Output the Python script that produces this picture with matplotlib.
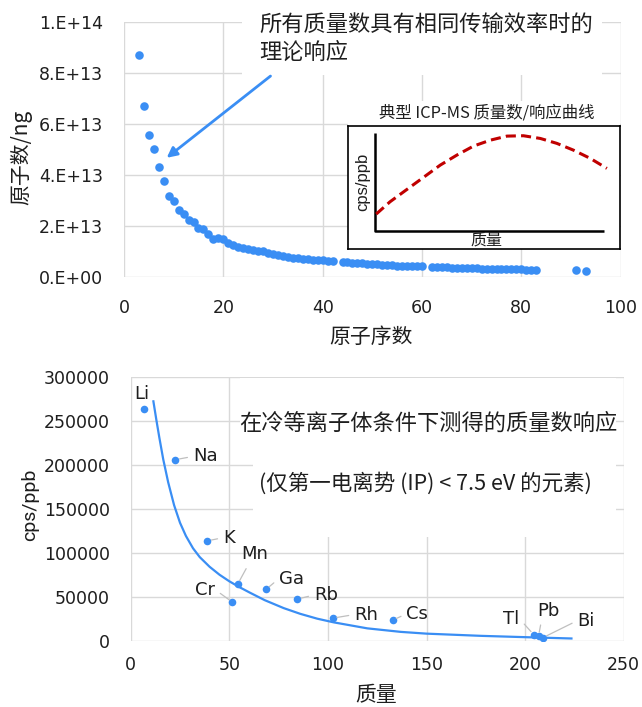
import matplotlib
matplotlib.use("Agg")
import matplotlib.pyplot as plt
from matplotlib.patches import Rectangle

plt.rcParams['font.family'] = ['Roboto', 'Noto Sans CJK SC', 'DejaVu Sans']

# ---------------- data: top chart (atoms per ng vs atomic number) ----------------
atomic_number = [3, 4, 5, 6, 7, 8, 9, 10, 11, 12, 13, 14, 15, 16, 17, 18, 19, 20,
                 21, 22, 23, 24, 25, 26, 27, 28, 29, 30, 31, 32, 33, 34, 35, 36,
                 37, 38, 39, 40, 41, 42, 44, 45, 46, 47, 48, 49, 50, 51, 52, 53,
                 54, 55, 56, 57, 58, 59, 60, 62, 63, 64, 65, 66, 67, 68, 69, 70,
                 71, 72, 73, 74, 75, 76, 77, 78, 79, 80, 81, 82, 83, 91, 93]
atoms_per_ng_e13 = [8.68, 6.68, 5.57, 5.01, 4.30, 3.76, 3.17, 2.98, 2.62, 2.48,
                    2.23, 2.14, 1.94, 1.88, 1.70, 1.51, 1.54, 1.50, 1.34, 1.26,
                    1.18, 1.16, 1.10, 1.08, 1.02, 1.03, 0.948, 0.921, 0.864, 0.829,
                    0.804, 0.763, 0.754, 0.719, 0.705, 0.687, 0.677, 0.660, 0.648,
                    0.628, 0.596, 0.585, 0.566, 0.558, 0.536, 0.524, 0.507, 0.495,
                    0.472, 0.475, 0.459, 0.453, 0.439, 0.434, 0.430, 0.427, 0.418,
                    0.401, 0.396, 0.383, 0.379, 0.371, 0.365, 0.360, 0.356, 0.348,
                    0.344, 0.337, 0.333, 0.328, 0.323, 0.317, 0.313, 0.309, 0.306,
                    0.300, 0.295, 0.291, 0.288, 0.261, 0.254]
top_xticks = [0, 20, 40, 60, 80, 100]
top_yticks_e13 = [0, 2, 4, 6, 8, 10]
top_yticklabels = ['0.E+00', '2.E+13', '4.E+13', '6.E+13', '8.E+13', '1.E+14']

# inset schematic curve (relative units)
inset_mass = [0.102, 0.153, 0.215, 0.276, 0.338, 0.399, 0.460, 0.522, 0.583,
              0.644, 0.706, 0.767, 0.828, 0.890, 0.951]
inset_resp = [0.286, 0.386, 0.486, 0.584, 0.684, 0.765, 0.838, 0.886, 0.919,
              0.922, 0.900, 0.860, 0.805, 0.738, 0.657]

# ---------------- data: bottom chart (cold plasma response) ----------------
elements = ['Li', 'Na', 'K', 'Cr', 'Mn', 'Ga', 'Rb', 'Rh', 'Cs', 'Tl', 'Pb', 'Bi']
mass = [6.6, 22.7, 38.9, 51.5, 54.2, 68.6, 84.5, 102.5, 132.8, 204.4, 206.8, 209.0]
cps_ppb = [263000, 205700, 113500, 43900, 64000, 58200, 47200, 25600, 23200, 6800, 5300, 3400]
label_pos = [(5.6, 279800), (37.8, 209400), (49.8, 117000), (37.8, 57900),
             (62.7, 98000), (81.4, 70400), (99.0, 52000), (119.4, 29700),
             (145.3, 30500), (193.1, 24700), (211.8, 34300), (230.9, 22800)]
label_relpos = [None, (0, 0.5), (0, 0.5), (1, 0.5), (0.3, 0), (0, 0.5), (0, 0.5),
                (0, 0.5), (0, 0.5), (1, 0.5), (0.2, 0), (0, 0.5)]

fit_mass = [11.5, 13.0, 14.5, 16.5, 19.0, 22.0, 25.0, 28.0, 31.6, 35.0, 40.0, 45.0,
            50.0, 55.0, 60.5, 68.0, 77.6, 86.0, 94.6, 103.0, 120.0, 137.0, 150.0,
            177.6, 200.0, 223.5]
fit_cps = [272000, 251000, 231000, 206000, 180000, 154000, 134000, 119000, 105000,
           95000, 84000, 75000, 67500, 61000, 54500, 46000, 37000, 30500, 25000,
           20800, 14000, 10000, 8000, 5500, 4000, 2500]
bot_xticks = [0, 50, 100, 150, 200, 250]
bot_yticks = [0, 50000, 100000, 150000, 200000, 250000, 300000]

BLUE = '#3a8ef4'
GRID = '#d9d9d9'
TXT = '#1e1e1e'
CJK = ['Noto Sans CJK SC', 'DejaVu Sans']
NUM = ['DejaVu Sans']

fig = plt.figure(figsize=(6.42, 7.07), dpi=100)

# ======================= top chart =======================
ax1 = fig.add_axes([0.1931, 0.608, 0.7737, 0.3614])
ax1.set_axisbelow(True)
ax1.scatter(atomic_number, [v * 1e13 for v in atoms_per_ng_e13], s=38, color=BLUE,
            zorder=3, linewidths=0)
ax1.set_xlim(0, 100)
ax1.set_ylim(0, 1e14)
ax1.set_xticks(top_xticks)
ax1.set_yticks([v * 1e13 for v in top_yticks_e13])
ax1.set_yticklabels(top_yticklabels)
ax1.grid(True, color=GRID, lw=1.0)
for s in ax1.spines.values():
    s.set_visible(False)
ax1.tick_params(axis='both', length=0, labelsize=12.5, colors=TXT)
ax1.tick_params(axis='y', pad=15)
ax1.tick_params(axis='x', pad=16)
for lab in ax1.get_xticklabels() + ax1.get_yticklabels():
    lab.set_family(NUM)
ax1.set_xlabel('原子序数', fontsize=15, color=TXT, family=CJK, va='center')
ax1.xaxis.set_label_coords(0.497, -0.234)
ax1.set_ylabel('原子数/ng', fontsize=15, color=TXT, family=CJK, va='center')
ax1.yaxis.set_label_coords(-0.206, 0.47)

# white background for annotation text
ax1.add_patch(Rectangle((23.7, 79.1e12), 72.5, 30e12, facecolor='white',
                        edgecolor='none', zorder=1, clip_on=False))
ax1.text(27.3, 93.5e12, '所有质量数具有相同传输效率时的\n理论响应', fontsize=16,
         ha='left', va='center', color=TXT, family=CJK, linespacing=1.3, zorder=4)
ax1.annotate('', xy=(8.6, 46.7e12), xytext=(29.5, 78.7e12),
             arrowprops=dict(arrowstyle='-|>,head_length=0.6,head_width=0.3',
                             color=BLUE, lw=2.0, shrinkA=0, shrinkB=0), zorder=4)

# inset schematic
ax1.add_patch(Rectangle((45.2, 10.9e12), 54.7, 58e12, facecolor='white',
                        edgecolor='none', zorder=1, clip_on=False))
axin = ax1.inset_axes([45.2, 10.9e12, 54.7, 48.2e12], transform=ax1.transData)
axin.set_xlim(0, 1)
axin.set_ylim(0, 1)
axin.set_xticks([])
axin.set_yticks([])
for s in axin.spines.values():
    s.set_linewidth(1.2)
    s.set_color('black')
axin.plot([0.097, 0.097, 0.941], [0.946, 0.147, 0.147], color='black', lw=1.8,
          solid_capstyle='butt')
axin.plot(inset_mass, inset_resp, color='#c00000', lw=2.2, dashes=(3.3, 1.7))
axin.text(0.509, 1.035, '典型 ICP-MS 质量数/响应曲线', transform=axin.transAxes,
          ha='center', va='bottom', fontsize=11.8, color=TXT, family=CJK)
axin.text(0.509, 0.075, '质量', transform=axin.transAxes, ha='center', va='center',
          fontsize=11.5, color=TXT, family=CJK)
axin.text(0.052, 0.55, 'cps/ppb', transform=axin.transAxes, ha='center',
          va='center', rotation=90, fontsize=12, color=TXT,
          family=['Liberation Sans', 'DejaVu Sans'])

# ======================= bottom chart =======================
ax2 = fig.add_axes([0.2036, 0.0938, 0.7679, 0.3734])
ax2.set_axisbelow(True)
ax2.plot(fit_mass, fit_cps, color=BLUE, lw=1.6, zorder=3)
ax2.scatter(mass, cps_ppb, s=30, color=BLUE, zorder=4, linewidths=0)
ax2.set_xlim(0, 250)
ax2.set_ylim(0, 300000)
ax2.set_xticks(bot_xticks)
ax2.set_yticks(bot_yticks)
ax2.set_yticklabels([str(v) for v in bot_yticks])
ax2.grid(True, color=GRID, lw=1.0)
for s in ax2.spines.values():
    s.set_visible(False)
ax2.tick_params(axis='both', length=0, labelsize=12.5, colors=TXT)
ax2.tick_params(axis='y', pad=15)
ax2.tick_params(axis='x', pad=11)
for lab in ax2.get_xticklabels() + ax2.get_yticklabels():
    lab.set_family(NUM)
ax2.set_xlabel('质量', fontsize=15, color=TXT, family=CJK, va='center')
ax2.xaxis.set_label_coords(0.497, -0.206)
ax2.set_ylabel('cps/ppb', fontsize=14, color=TXT, va='center')
ax2.yaxis.set_label_coords(-0.204, 0.514)

ax2.add_patch(Rectangle((55.5, 228000), 190.5, 70000, facecolor='white',
                        edgecolor='none', zorder=1))
ax2.add_patch(Rectangle((62.0, 118000), 184.0, 110000, facecolor='white',
                        edgecolor='none', zorder=1))
ax2.text(150.9, 247000, '在冷等离子体条件下测得的质量数响应', fontsize=16,
         ha='center', va='center', color=TXT, family=CJK, zorder=5)
ax2.text(149.7, 178900, '(仅第一电离势 (IP) < 7.5 eV 的元素)', fontsize=15.5,
         ha='center', va='center', color=TXT, family=CJK, zorder=5)

for name, mx, cy, lp, rp in zip(elements, mass, cps_ppb, label_pos, label_relpos):
    if rp is None:
        ax2.text(lp[0], lp[1], name, fontsize=13, ha='center', va='center',
                 color=TXT, zorder=5, family=NUM)
    else:
        ax2.annotate(name, xy=(mx, cy), xytext=lp, fontsize=13, ha='center',
                     va='center', color=TXT, zorder=5, family=NUM,
                     arrowprops=dict(arrowstyle='-', color='#bfbfbf', lw=0.9,
                                     relpos=rp, shrinkA=2, shrinkB=3))

fig.savefig('out.png', dpi=100, facecolor='white')
